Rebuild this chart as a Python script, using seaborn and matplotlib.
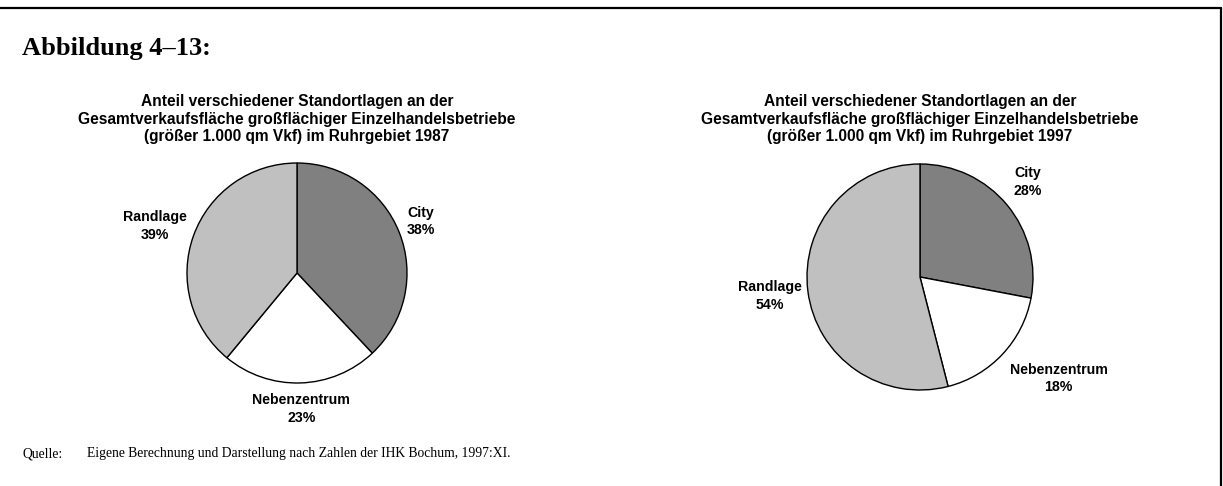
import numpy as np
import matplotlib
matplotlib.use("Agg")
import matplotlib.pyplot as plt
from matplotlib.lines import Line2D
import seaborn as sns

# data
kategorien = ["City", "Nebenzentrum", "Randlage"]
anteile_1987 = [38, 23, 39]
anteile_1997 = [28, 18, 54]
titel_1987 = ("Anteil verschiedener Standortlagen an der\n"
              "Gesamtverkaufsfläche großflächiger Einzelhandelsbetriebe\n"
              "(größer 1.000 qm Vkf) im Ruhrgebiet 1987")
titel_1997 = ("Anteil verschiedener Standortlagen an der\n"
              "Gesamtverkaufsfläche großflächiger Einzelhandelsbetriebe\n"
              "(größer 1.000 qm Vkf) im Ruhrgebiet 1997")

sns.set_theme(style="white")
plt.rcParams['font.family'] = ['Liberation Sans', 'DejaVu Sans']
plt.rcParams['text.color'] = 'black'

farben = ["#808080", "#FFFFFF", "#C0C0C0"]

W, H = 1223, 486
fig = plt.figure(figsize=(W / 100, H / 100), dpi=100)


def px_axes(cx, cy, half):
    # square axes centred on pixel (cx, cy) measured from the top-left corner
    return fig.add_axes([(cx - half) / W, (H - cy - half) / H, 2 * half / W, 2 * half / H])


def torte(ax, werte, dist, shift):
    wedges, _ = ax.pie(werte, colors=farben, startangle=90, counterclock=False,
                       wedgeprops=dict(edgecolor="black", linewidth=1.0))
    for w, name, v, d, s in zip(wedges, kategorien, werte, dist, shift):
        ang = np.deg2rad((w.theta1 + w.theta2) / 2 + s)
        ax.text(d * np.cos(ang), d * np.sin(ang), f"{name}\n{v}%",
                ha="center", va="center", fontsize=10.2, fontweight="bold",
                linespacing=1.35, color="black")
    ax.set_xlim(-1.6, 1.6)
    ax.set_ylim(-1.6, 1.6)
    ax.axis("off")


L = 1.6
ax1 = px_axes(297, 273, 110 * L)
torte(ax1, anteile_1987, [1.22, 1.24, 1.36], [1, 0, 1.5])
ax2 = px_axes(920, 277, 113 * L)
torte(ax2, anteile_1997, [1.27, 1.52, 1.34], [2, 7, 0])

for x, t in [(297, titel_1987), (920, titel_1997)]:
    fig.text(x / W, 1 - 119 / H, t, ha="center", va="center", fontsize=11.2,
             fontweight="bold", linespacing=1.17, color="black")

fig.text(22 / W, 1 - 55 / H, "Abbildung 4–13:", family="Liberation Serif",
         fontsize=19, fontweight="bold", va="baseline", color="black")
fig.text(22 / W, 1 - 457 / H, "Quelle:", family="Liberation Serif",
         fontsize=9.8, va="baseline", color="black")
fig.text(87 / W, 1 - 457 / H,
         "Eigene Berechnung und Darstellung nach Zahlen der IHK Bochum, 1997:XI.",
         family="Liberation Serif", fontsize=9.8, va="baseline", color="black")

# frame: top rule and right edge
fig.add_artist(Line2D([0, 1220.5 / W], [1 - 8.5 / H, 1 - 8.5 / H], color="black", lw=1.6))
fig.add_artist(Line2D([1220.5 / W, 1220.5 / W], [1 - 8.5 / H, 0], color="black", lw=1.6))

fig.savefig("out.png", dpi=100)
